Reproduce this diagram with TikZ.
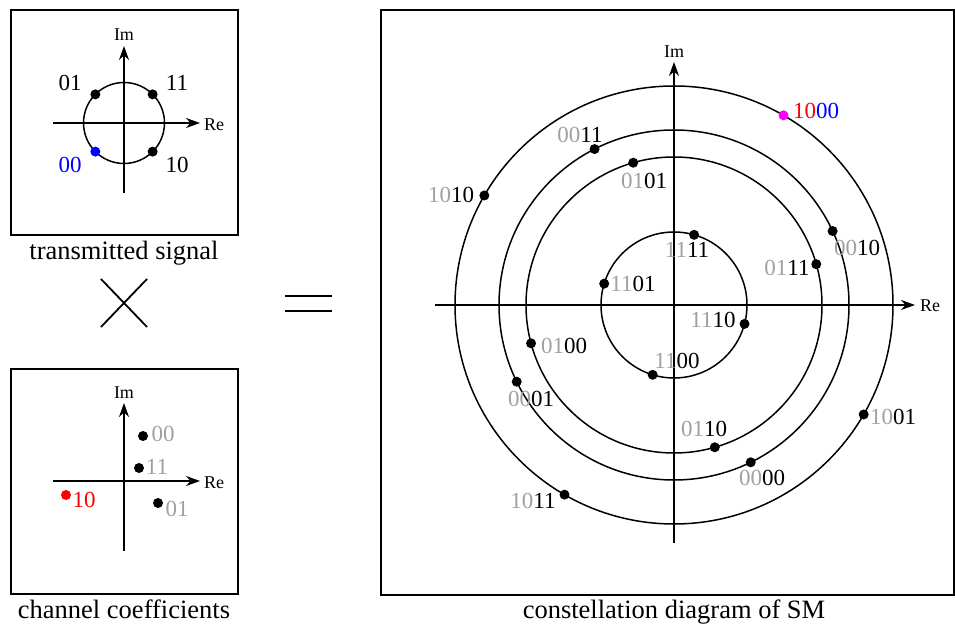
\documentclass[tikz,border=0pt]{standalone}
\usepackage{fontspec}
\setmainfont{Liberation Serif}
\usetikzlibrary{arrows.meta,calc}
\definecolor{lgray}{RGB}{160,160,160}
\definecolor{magent}{RGB}{255,0,255}
\tikzset{
  frame/.style={draw, line width=1.6pt},
  axis/.style={line width=1.5pt, -{Stealth[length=14pt,width=10pt]}},
  ring/.style={line width=1.5pt},
  pt/.style={circle, fill=black, inner sep=0pt, minimum size=10pt},
  lbl/.style={inner sep=0pt, font=\fontsize{23}{26}\selectfont},
  axlbl/.style={inner sep=0pt, font=\fontsize{18}{20}\selectfont},
  captxt/.style={inner sep=0pt, font=\fontsize{26.5}{30}\selectfont},
  opline/.style={line width=1.8pt}
}
\newcommand{\gb}[2]{\textcolor{lgray}{#1}#2}
\begin{document}
\begin{tikzpicture}[x=1pt,y=1pt]
\useasboundingbox (0,0) rectangle (955,628);
% ---------- transmitted signal ----------
\node[frame, minimum width=227pt, minimum height=225pt, anchor=north west] (box1) at (10,619) {};
\coordinate (c1) at (124,505);
\coordinate (re1a) at (53,505);
\coordinate (re1b) at (200,505);
\coordinate (im1a) at (124,435);
\coordinate (im1b) at (124,582);
\draw[axis] (re1a) -- (re1b);
\draw[axis] (im1a) -- (im1b);
\draw[ring] (c1) circle (40.5);
\node[axlbl] (im1) at (124,593) {Im};
\node[axlbl] (re1) at (214,503) {Re};
\node[pt] (s11) at ($(c1)+(45:40.5)$) {};
\node[pt] (s01) at ($(c1)+(135:40.5)$) {};
\node[pt, fill=blue] (s00) at ($(c1)+(225:40.5)$) {};
\node[pt] (s10) at ($(c1)+(315:40.5)$) {};
\node[lbl] (l01) at (70,545) {01};
\node[lbl] (l11) at (177,545) {11};
\node[lbl, text=blue] (l00) at (70,463) {00};
\node[lbl] (l10) at (177,463) {10};
\node[captxt] (cap1) at (124,375) {transmitted signal};
% ---------- times ----------
\coordinate (x1) at (101,349);
\coordinate (x2) at (147,301);
\coordinate (x3) at (101,301);
\coordinate (x4) at (147,349);
\draw[opline] (x1) -- (x2);
\draw[opline] (x3) -- (x4);
% ---------- channel coefficients ----------
\node[frame, minimum width=227pt, minimum height=225pt, anchor=north west] (box2) at (10,260) {};
\coordinate (c2) at (124,147);
\coordinate (re2a) at (53,147);
\coordinate (re2b) at (200,147);
\coordinate (im2a) at (124,77);
\coordinate (im2b) at (124,225);
\draw[axis] (re2a) -- (re2b);
\draw[axis] (im2a) -- (im2b);
\node[axlbl] (im2) at (124,235) {Im};
\node[axlbl] (re2) at (214,145) {Re};
\node[pt] (h00) at (143,192) {};
\node[pt] (h11) at (139,160) {};
\node[pt, fill=red] (h10) at (66,133) {};
\node[pt] (h01) at (158,125) {};
\node[lbl, text=lgray] (k00) at (163,194) {00};
\node[lbl, text=lgray] (k11) at (157,161) {11};
\node[lbl, text=red] (k10) at (84,128) {10};
\node[lbl, text=lgray] (k01) at (177,119) {01};
\node[captxt] (cap2) at (124,19) {channel coefficients};
% ---------- equals ----------
\coordinate (e1) at (285,332);
\coordinate (e2) at (332,332);
\coordinate (e3) at (285,317);
\coordinate (e4) at (332,317);
\draw[opline] (e1) -- (e2);
\draw[opline] (e3) -- (e4);
% ---------- constellation of SM ----------
\node[frame, minimum width=573pt, minimum height=585pt, anchor=north west] (box3) at (380,619) {};
\coordinate (c3) at (674,323);
\coordinate (re3a) at (435,323);
\coordinate (re3b) at (915,323);
\coordinate (im3a) at (674,85);
\coordinate (im3b) at (674,566);
\draw[ring] (c3) circle (219);
\draw[ring] (c3) circle (175);
\draw[ring] (c3) circle (148);
\draw[ring] (c3) circle (73);
\draw[axis] (re3a) -- (re3b);
\draw[axis] (im3a) -- (im3b);
\node[axlbl] (im3) at (674,576) {Im};
\node[axlbl] (re3) at (930,322) {Re};
% outer ring
\node[pt, fill=magent] (p1000) at ($(c3)+(60:219)$) {};
\node[pt] (p1010) at ($(c3)+(150:219)$) {};
\node[pt] (p1011) at ($(c3)+(240:219)$) {};
\node[pt] (p1001) at ($(c3)+(330:219)$) {};
% second ring
\node[pt] (p0010) at ($(c3)+(25:175)$) {};
\node[pt] (p0011) at ($(c3)+(117:175)$) {};
\node[pt] (p0001) at ($(c3)+(206:175)$) {};
\node[pt] (p0000) at ($(c3)+(296:175)$) {};
% third ring
\node[pt] (p0111) at ($(c3)+(16:148)$) {};
\node[pt] (p0101) at ($(c3)+(106:148)$) {};
\node[pt] (p0100) at ($(c3)+(195:148)$) {};
\node[pt] (p0110) at ($(c3)+(286:148)$) {};
% inner ring
\node[pt] (p1111) at ($(c3)+(74:73)$) {};
\node[pt] (p1101) at ($(c3)+(163:73)$) {};
\node[pt] (p1100) at ($(c3)+(253:73)$) {};
\node[pt] (p1110) at ($(c3)+(345:73)$) {};
% labels
\node[lbl] (t1000) at (816,517) {\textcolor{red}{10}\textcolor{blue}{00}};
\node[lbl] (t1010) at (451,433) {\gb{10}{10}};
\node[lbl] (t0011) at (580,493) {\gb{00}{11}};
\node[lbl] (t0101) at (644,447) {\gb{01}{01}};
\node[lbl] (t1101) at (633,344) {\gb{11}{01}};
\node[lbl] (t1111) at (687,378) {\gb{11}{11}};
\node[lbl] (t0010) at (857,380) {\gb{00}{10}};
\node[lbl] (t0111) at (787,360) {\gb{01}{11}};
\node[lbl] (t1110) at (713,308) {\gb{11}{10}};
\node[lbl] (t0100) at (564,282) {\gb{01}{00}};
\node[lbl] (t1100) at (677,267) {\gb{11}{00}};
\node[lbl] (t0001) at (531,229) {\gb{00}{01}};
\node[lbl] (t0110) at (704,199) {\gb{01}{10}};
\node[lbl] (t0000) at (762,150) {\gb{00}{00}};
\node[lbl] (t1001) at (893,211) {\gb{10}{01}};
\node[lbl] (t1011) at (533,127) {\gb{10}{11}};
\node[captxt] (cap3) at (674,16) {constellation diagram of SM};
\end{tikzpicture}
\end{document}
